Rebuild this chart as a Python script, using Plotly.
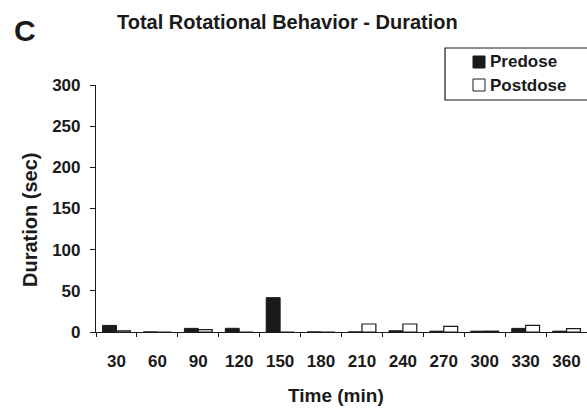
import plotly.graph_objects as go

times = ["30", "60", "90", "120", "150", "180", "210", "240", "270", "300", "330", "360"]
predose = [8, 0, 4.4, 4.5, 41.7, 0, 0, 1.5, 1, 1, 4.4, 1]
postdose = [1.5, 0, 3, 0, 0, 0, 9.7, 9.7, 6.8, 1, 8, 4]
series_names = ["Predose", "Postdose"]

FONT = "Arial, Liberation Sans, sans-serif"
INK = "#1a1a1a"
W, H = 587, 409
L, R, T, B = 96, 0, 85, 77
pw, ph = W - L - R, H - T - B

def px(x):
    return (x - L) / pw

def py(y):
    return (H - B - y) / ph

fig = go.Figure()
fig.add_trace(go.Bar(x=times, y=predose, name=series_names[0],
                     marker=dict(color=INK, line=dict(color=INK, width=1))))
fig.add_trace(go.Bar(x=times, y=postdose, name=series_names[1],
                     marker=dict(color="white", line=dict(color=INK, width=1.2))))

fig.update_layout(
    width=W, height=H,
    margin=dict(l=L, r=R, t=T, b=B),
    paper_bgcolor="white", plot_bgcolor="white",
    barmode="group", bargap=0.32, bargroupgap=0,
    font=dict(family=FONT, color=INK, size=17),
    title=dict(text="<b>Total Rotational Behavior - Duration</b>",
               x=117 / W, xanchor="left", xref="container",
               y=1 - 22 / H, yanchor="middle", yref="container",
               font=dict(size=20, family=FONT, color=INK)),
    showlegend=False,
)

fig.update_xaxes(type="category", tickson="boundaries", ticks="outside", ticklen=4,
                 tickcolor=INK, showline=True, linecolor=INK, linewidth=1.2,
                 showgrid=False, range=[-0.5, 11.5], ticklabelstandoff=13,
                 tickfont=dict(size=17, family=FONT, weight="bold", color=INK))
fig.update_yaxes(range=[0, 300], dtick=50, ticks="outside", ticklen=5,
                 tickcolor=INK, showline=True, linecolor=INK, linewidth=1.2,
                 showgrid=False, zeroline=False, ticklabelstandoff=6,
                 tickfont=dict(size=17, family=FONT, weight="bold", color=INK))

# legend box
fig.add_shape(type="rect", xref="paper", yref="paper",
              x0=px(445), x1=px(600), y0=py(100), y1=py(48),
              line=dict(color=INK, width=1.2), fillcolor="rgba(0,0,0,0)")
legend_rows = [(62, INK), (85, "white")]
for (yc, fill), name in zip(legend_rows, series_names):
    fig.add_shape(type="rect", xref="paper", yref="paper",
                  x0=px(473), x1=px(485), y0=py(yc + 6), y1=py(yc - 6),
                  line=dict(color=INK, width=1), fillcolor=fill)
    fig.add_annotation(text="<b>" + name + "</b>", xref="paper", yref="paper",
                       x=px(488), y=py(yc), xanchor="left", yanchor="middle",
                       showarrow=False, font=dict(size=17, family=FONT, color=INK))

fig.add_annotation(text="<b>C</b>", xref="paper", yref="paper",
                   x=px(12), y=py(30), xanchor="left", yanchor="middle",
                   showarrow=False, font=dict(size=30, family=FONT, color=INK))
fig.add_annotation(text="<b>Duration (sec)</b>", xref="paper", yref="paper",
                   x=px(30), y=py(220), xanchor="center", yanchor="middle",
                   textangle=-90, showarrow=False,
                   font=dict(size=20, family=FONT, color=INK))
fig.add_annotation(text="<b>Time (min)</b>", xref="paper", yref="paper",
                   x=px(336), y=py(395), xanchor="center", yanchor="middle",
                   showarrow=False, font=dict(size=19, family=FONT, color=INK))

fig.write_html("out.html")
